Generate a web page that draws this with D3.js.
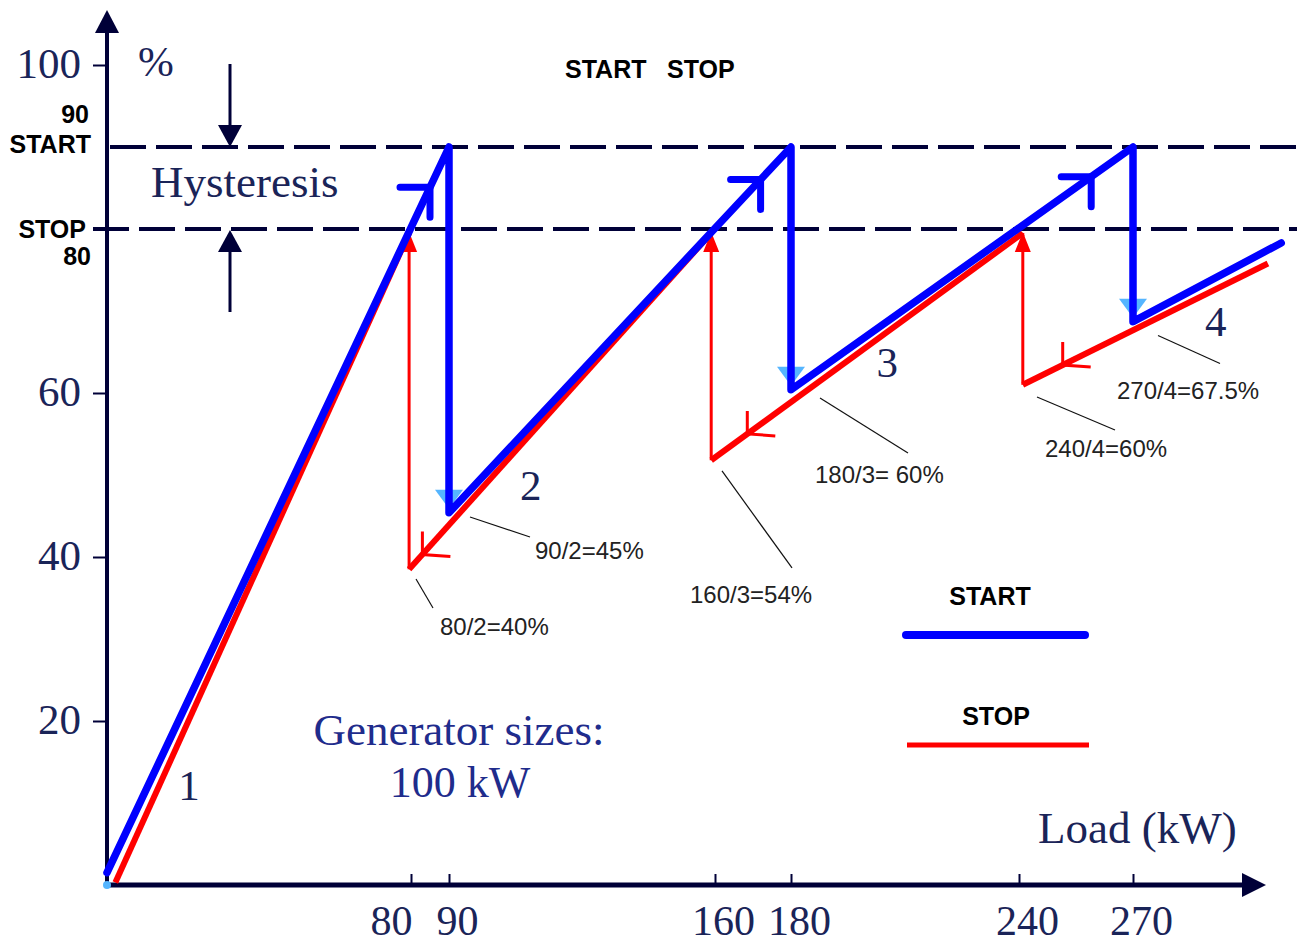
<!DOCTYPE html>
<html>
<head>
<meta charset="utf-8">
<script src="https://cdn.jsdelivr.net/npm/d3@7"></script>
<style>
  body { margin: 0; background: #fff; }
  svg { display: block; }
</style>
</head>
<body>
<div id="chart"></div>
<script>
const width = 1297, height = 944;

// ---- data (load in kW, level in %) ----
const loadTicks = [80, 90, 160, 180, 240, 270];
const pctTicks = [20, 40, 60, 100];
const startLevel = 90, stopLevel = 80;

// START curve (blue) and STOP curve (red)
const startLoad = [0, 90, 90, 180, 180, 270, 270, 309];
const startPct  = [1.5, 90, 45.4, 90, 60.4, 90, 68.7, 78.3];
const stopLoad  = [2.2, 79.5, 79.5, 159, 159, 241, 241, 305.5];
const stopPct   = [0.3, 79.5, 38.5, 79.5, 51.8, 79.5, 61, 75.8];

// where the direction arrows sit on the sloped parts
const startArrowLoad = [85, 172, 259];
const stopArrowLoad  = [83, 168.5, 251.5];

// number of generators running, and where the label sits
const stageNames = ["1", "2", "3", "4"];
const stageLoad  = [21.6, 111.5, 205.3, 291.8];
const stagePct   = [10.4, 47, 62, 67];

// the worked percentages
const noteText = ["80/2=40%", "90/2=45%", "160/3=54%", "180/3= 60%", "240/4=60%", "270/4=67.5%"];
const noteLoad = [80, 90, 160, 180, 240, 270];
const notePct  = [40, 45, 53.3, 60, 60, 67.5];

// ---- styling ----
const navy = "#000038", textNavy = "#1a2458", genBlue = "#1f2c8c";
const blue = "#0000ff", red = "#ff0000", lightBlue = "#55b5ff";
const serif = "'Liberation Serif', 'Times New Roman', serif";
const sans = "'Liberation Sans', Arial, sans-serif";

const x = d3.scaleLinear().domain([0, 270]).range([107, 1133]);
const y = d3.scaleLinear().domain([0, 100]).range([885, 65]);

const svg = d3.select("#chart").append("svg")
    .attr("width", width)
    .attr("height", height)
    .style("background", "#fff");

// dashed START / STOP levels
svg.append("line")
    .attr("x1", 110).attr("x2", width)
    .attr("y1", y(startLevel)).attr("y2", y(startLevel))
    .attr("stroke", navy).attr("stroke-width", 4).attr("stroke-dasharray", "36,10");
svg.append("line")
    .attr("x1", 93).attr("x2", width)
    .attr("y1", y(stopLevel)).attr("y2", y(stopLevel))
    .attr("stroke", navy).attr("stroke-width", 4).attr("stroke-dasharray", "36,10");

// axes
const xAxis = d3.axisBottom(x).tickValues(loadTicks)
    .tickSizeInner(-11).tickSizeOuter(0).tickPadding(20);
const gx = svg.append("g").attr("transform", `translate(0,${y(0)})`).call(xAxis);
gx.select(".domain").remove();
gx.selectAll(".tick line").attr("stroke", navy).attr("stroke-width", 2);
gx.selectAll(".tick text")
    .attr("font-family", serif).attr("font-size", 42).attr("fill", textNavy)
    .attr("dx", d => d === 80 ? -20 : 8);

const yAxis = d3.axisLeft(y).tickValues(pctTicks)
    .tickSize(14).tickSizeOuter(0).tickPadding(12);
const gy = svg.append("g").attr("transform", `translate(${x(0)},0)`).call(yAxis);
gy.select(".domain").remove();
gy.selectAll(".tick line").attr("stroke", navy).attr("stroke-width", 2);
gy.selectAll(".tick text")
    .attr("font-family", serif).attr("font-size", 43).attr("fill", textNavy)
    .attr("dy", "0.28em");

// axis lines with arrow heads
svg.append("line").attr("x1", x(0)).attr("x2", x(0)).attr("y1", y(0)).attr("y2", 25)
    .attr("stroke", navy).attr("stroke-width", 4);
svg.append("path").attr("d", `M${x(0)},10 L${x(0) - 12},33 L${x(0) + 12},33 Z`).attr("fill", navy);
svg.append("line").attr("x1", x(0)).attr("x2", 1250).attr("y1", y(0)).attr("y2", y(0))
    .attr("stroke", navy).attr("stroke-width", 5);
svg.append("path").attr("d", `M1266,${y(0)} L1242,${y(0) - 12} L1242,${y(0) + 12} Z`).attr("fill", navy);

// hysteresis arrows
const hx = 230;
svg.append("line").attr("x1", hx).attr("x2", hx).attr("y1", 64).attr("y2", y(startLevel) - 18)
    .attr("stroke", navy).attr("stroke-width", 3);
svg.append("path").attr("d", `M${hx},${y(startLevel)} L${hx - 12},${y(startLevel) - 22} L${hx + 12},${y(startLevel) - 22} Z`)
    .attr("fill", navy);
svg.append("line").attr("x1", hx).attr("x2", hx).attr("y1", y(stopLevel) + 18).attr("y2", 312)
    .attr("stroke", navy).attr("stroke-width", 3);
svg.append("path").attr("d", `M${hx},${y(stopLevel) + 1} L${hx - 12},${y(stopLevel) + 23} L${hx + 12},${y(stopLevel) + 23} Z`)
    .attr("fill", navy);

// level labels on the left
const boldText = (txt, tx, ty, anchor) => svg.append("text")
    .attr("x", tx).attr("y", ty).attr("text-anchor", anchor || "end")
    .attr("font-family", sans).attr("font-weight", "bold").attr("font-size", 25)
    .attr("fill", "#000").text(txt);
boldText("90", 89, 123);
boldText("START", 91, 153);
boldText("STOP", 86, 238);
boldText("80", 91, 265);
boldText("START", 565, 78, "start");
boldText("STOP", 667, 78, "start");

const serifText = (txt, tx, ty, color, anchor, size) => svg.append("text")
    .attr("x", tx).attr("y", ty).attr("text-anchor", anchor || "start")
    .attr("font-family", serif).attr("font-size", size || 43)
    .attr("fill", color).text(txt);
serifText("%", 138, 76, textNavy);
serifText("Hysteresis", 151, 197, textNavy, "start", 45);
serifText("Generator sizes:", 459, 745, genBlue, "middle", 45);
serifText("100 kW", 460, 797, genBlue, "middle", 44);
serifText("Load (kW)", 1038, 843, textNavy, "start", 45);

// split curve into sloped parts and vertical jumps
const pts = (loads, pcts) => loads.map((l, i) => [l, pcts[i]]);
const startPts = pts(startLoad, startPct);
const stopPts = pts(stopLoad, stopPct);
const slopes = p => d3.range(0, p.length, 2).map(i => [p[i], p[i + 1]]);
const jumps = p => d3.range(1, p.length - 1, 2).map(i => [p[i], p[i + 1]]);
const line = d3.line().x(d => x(d[0])).y(d => y(d[1]));

// position on a sloped part at a given load
const onSlope = (p, load) => {
    const seg = slopes(p).find(s => load >= s[0][0] && load <= s[1][0]);
    const t = (load - seg[0][0]) / (seg[1][0] - seg[0][0]);
    return [x(load), y(seg[0][1] + t * (seg[1][1] - seg[0][1]))];
};

// light blue marks at the foot of each START drop
jumps(startPts).forEach(j => {
    const bx = x(j[1][0]), by = y(j[1][1]);
    svg.append("path")
        .attr("d", `M${bx - 14},${by - 23} L${bx + 14},${by - 23} L${bx},${by - 4} Z`)
        .attr("fill", lightBlue);
});
svg.append("circle").attr("cx", x(0)).attr("cy", y(0)).attr("r", 4).attr("fill", lightBlue);

// STOP curve (red)
svg.append("g").selectAll("path")
    .data(slopes(stopPts))
    .join("path")
    .attr("d", line)
    .attr("fill", "none").attr("stroke", red).attr("stroke-width", 6);
svg.append("g").selectAll("path")
    .data(jumps(stopPts))
    .join("path")
    .attr("d", line)
    .attr("fill", "none").attr("stroke", red).attr("stroke-width", 3);
// arrow heads on top of the red rises
jumps(stopPts).forEach(j => {
    const tx = x(j[0][0]), ty = y(j[0][1]) - 1;
    svg.append("path")
        .attr("d", `M${tx},${ty} L${tx - 8},${ty + 20} L${tx + 8},${ty + 20} Z`)
        .attr("fill", red);
});
// direction arrows on red slopes
stopArrowLoad.forEach(l => {
    const [vx, vy] = onSlope(stopPts, l);
    svg.append("path")
        .attr("d", `M${vx},${vy - 23} L${vx},${vy} L${vx + 28},${vy + 2}`)
        .attr("fill", "none").attr("stroke", red).attr("stroke-width", 3);
});

// START curve (blue)
svg.append("path")
    .datum(startPts)
    .attr("d", line)
    .attr("fill", "none").attr("stroke", blue).attr("stroke-width", 7.5)
    .attr("stroke-linejoin", "round").attr("stroke-linecap", "round");
startArrowLoad.forEach(l => {
    const [vx, vy] = onSlope(startPts, l);
    svg.append("path")
        .attr("d", `M${vx - 30},${vy} L${vx},${vy} L${vx},${vy + 30}`)
        .attr("fill", "none").attr("stroke", blue).attr("stroke-width", 7)
        .attr("stroke-linecap", "round").attr("stroke-linejoin", "round");
});

// stage numbers
stageNames.forEach((s, i) => {
    serifText(s, x(stageLoad[i]), y(stagePct[i]), textNavy, "middle");
});

// leader lines and worked percentages (offsets from the point they describe)
const noteLayout = [
    { a: [5, 22],  b: [22, 51],  t: [29, 78] },
    { a: [21, 1],  b: [81, 21],  t: [86, 43] },
    { a: [7, 23],  b: [77, 120], t: [-25, 155] },
    { a: [29, 5],  b: [117, 60], t: [24, 90] },
    { a: [18, 4],  b: [96, 37],  t: [26, 64] },
    { a: [25, 4],  b: [87, 32],  t: [-16, 67] }
];
noteText.forEach((txt, i) => {
    const px = x(noteLoad[i]), py = y(notePct[i]), L = noteLayout[i];
    svg.append("line")
        .attr("x1", px + L.a[0]).attr("y1", py + L.a[1])
        .attr("x2", px + L.b[0]).attr("y2", py + L.b[1])
        .attr("stroke", "#111").attr("stroke-width", 1.2);
    svg.append("text")
        .attr("x", px + L.t[0]).attr("y", py + L.t[1])
        .attr("font-family", sans).attr("font-size", 24)
        .attr("fill", "#222").text(txt);
});

// legend
boldText("START", 990, 605, "middle");
svg.append("line").attr("x1", 906).attr("x2", 1085).attr("y1", 635).attr("y2", 635)
    .attr("stroke", blue).attr("stroke-width", 8).attr("stroke-linecap", "round");
boldText("STOP", 996, 725, "middle");
svg.append("line").attr("x1", 907).attr("x2", 1089).attr("y1", 745).attr("y2", 745)
    .attr("stroke", red).attr("stroke-width", 5);
</script>
</body>
</html>
